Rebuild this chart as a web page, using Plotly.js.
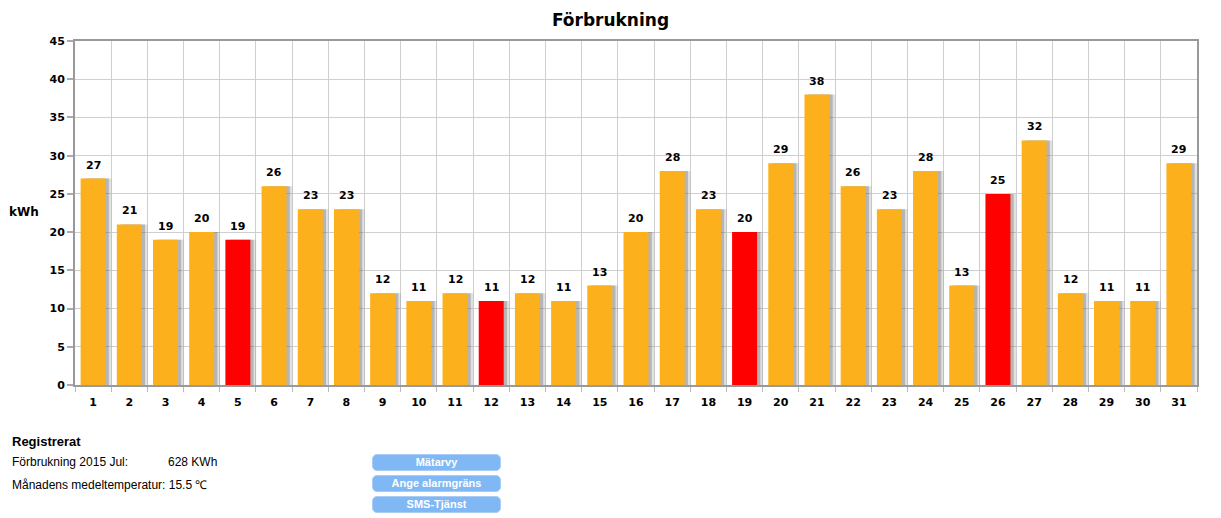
<!DOCTYPE html>
<html>
<head>
<meta charset="utf-8">
<script src="https://cdn.plot.ly/plotly-3.0.1.min.js"></script>
<style>
  html, body { margin: 0; padding: 0; background: #fff; }
  #wrap { position: relative; width: 1221px; height: 518px; overflow: hidden; }
  #chart { position: absolute; left: 0; top: 0; width: 1221px; height: 518px; }
  .info { position: absolute; font-family: "Liberation Sans", Arial, sans-serif; font-size: 12px; color: #000; white-space: nowrap; }
  .btn { position: absolute; left: 372px; width: 127px; height: 15px; background: #80b8f6; border: 1px solid #a9cdf7; border-radius: 5px; color: #fff; font-family: "Liberation Sans", Arial, sans-serif; font-weight: bold; font-size: 11px; line-height: 15px; text-align: center; box-sizing: content-box; }
</style>
</head>
<body>
<div id="wrap">
  <div id="chart"></div>
  <div class="info" style="left:12px; top:434px; font-weight:bold; font-size:13px;">Registrerat</div>
  <div class="info" style="left:12px; top:455px;">Förbrukning 2015 Jul:</div>
  <div class="info" style="left:168px; top:455px;">628 KWh</div>
  <div class="info" style="left:12px; top:476px;">Månadens medeltemperatur: 15.5 ℃</div>
  <div class="btn" style="top:454px;">Mätarvy</div>
  <div class="btn" style="top:475px;">Ange alarmgräns</div>
  <div class="btn" style="top:496px;">SMS-Tjänst</div>
</div>
<script>
const days = [1,2,3,4,5,6,7,8,9,10,11,12,13,14,15,16,17,18,19,20,21,22,23,24,25,26,27,28,29,30,31];
const kwh = [27,21,19,20,19,26,23,23,12,11,12,11,12,11,13,20,28,23,20,29,38,26,23,28,13,25,32,12,11,11,29];
const redDays = [5,12,19,26];
const yTicks = [0,5,10,15,20,25,30,35,40,45];

const orange = '#FBB01C';
const red = '#FF0000';
const colors = days.map(d => redDays.includes(d) ? red : orange);

const boldFont = {family: 'DejaVu Sans, Verdana, sans-serif', size: 11, color: '#000', weight: 'bold'};

const shadow2 = {
  type: 'bar', x: days, y: kwh,
  width: 0.69, offset: -0.345 + 0.16,
  marker: {color: 'rgba(120,120,120,0.22)', line: {width: 0}},
  hoverinfo: 'skip', showlegend: false
};
const shadow = {
  type: 'bar', x: days, y: kwh,
  width: 0.69, offset: -0.345 + 0.09,
  marker: {color: 'rgba(100,100,100,0.35)', line: {width: 0}},
  hoverinfo: 'skip', showlegend: false
};
const bars = {
  type: 'bar', x: days, y: kwh,
  width: 0.69, offset: -0.345,
  marker: {color: colors, line: {width: 0}},
  showlegend: false
};

const labelAnns = days.map((d, i) => ({
  x: d, y: kwh[i], xref: 'x', yref: 'y', text: String(kwh[i]),
  showarrow: false, xanchor: 'center', yanchor: 'bottom', yshift: 5,
  font: boldFont
}));

const layout = {
  width: 1221, height: 518,
  margin: {l: 75, r: 24, t: 41, b: 133},
  paper_bgcolor: '#fff', plot_bgcolor: '#fff',
  barmode: 'overlay',
  title: {text: 'Förbrukning', font: {family: 'DejaVu Sans, Verdana, sans-serif', size: 17, color: '#000', weight: 'bold'},
          x: 0.5, xanchor: 'center', y: 1 - 20/518, yanchor: 'middle', yref: 'container'},
  xaxis: {
    range: [0.5, 31.5], tickmode: 'array', tickvals: days, ticktext: days.map(String),
    ticks: '', showgrid: false, tickfont: boldFont, ticklabelstandoff: 6,
    showline: true, linecolor: '#999', linewidth: 2, mirror: true, zeroline: false,
    minor: {tick0: 0.5, dtick: 1, showgrid: true, gridcolor: '#cfcfcf', gridwidth: 1, ticks: 'outside', ticklen: 5, tickcolor: '#bbb'},
    fixedrange: true
  },
  yaxis: {
    range: [0, 45], tickmode: 'array', tickvals: yTicks, ticktext: yTicks.map(String),
    ticks: 'outside', ticklen: 6, tickcolor: '#aaa', tickwidth: 2,
    showgrid: true, gridcolor: '#cfcfcf', gridwidth: 1, tickfont: boldFont,
    showline: true, linecolor: '#999', linewidth: 2, mirror: true, zeroline: false,
    fixedrange: true
  },
  annotations: labelAnns.concat([{
    text: 'kWh', xref: 'paper', yref: 'paper', x: 0, y: (385-212)/344,
    xanchor: 'right', yanchor: 'middle', xshift: -34, showarrow: false,
    font: {family: 'DejaVu Sans, Verdana, sans-serif', size: 12, color: '#000', weight: 'bold'}
  }])
};

Plotly.newPlot('chart', [shadow2, shadow, bars], layout, {displayModeBar: false, staticPlot: true});
</script>
</body>
</html>
